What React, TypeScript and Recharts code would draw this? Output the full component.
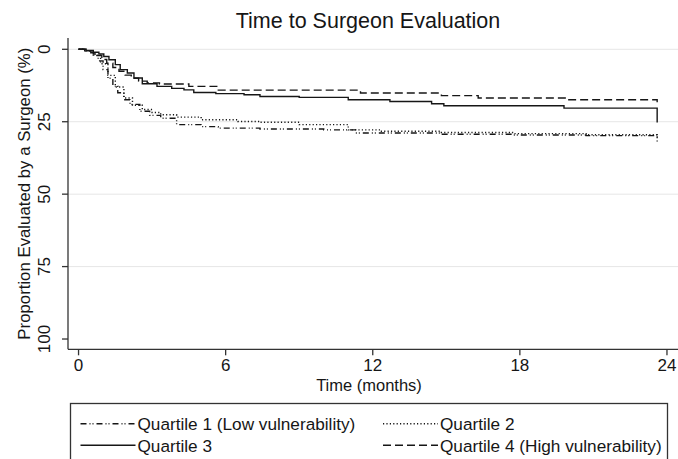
import React from "react";
import { LineChart, Line, XAxis, YAxis, CartesianGrid, Label } from "recharts";

// ---- data (Kaplan-Meier style cumulative proportion, %) ----
const xTicks = [0, 6, 12, 18, 24];
const yTicks = [0, 25, 50, 75, 100];
const gridValues = [0, 25, 50, 75];

const q1Time = [0, 0.3, 0.6, 0.8, 1.0, 1.2, 1.4, 1.6, 1.85, 2.1, 2.5, 2.9, 3.35, 4.0, 5.0, 5.7, 7.4, 10.0, 11.3, 14.8, 17.7, 20.7, 23.6];
const q1Value = [0, 0.6, 1.6, 4.0, 7.0, 10.0, 12.7, 15.0, 17.4, 19.0, 21.4, 22.8, 23.8, 26.0, 26.7, 27.2, 27.5, 27.8, 28.9, 29.3, 29.6, 29.8, 30.2];

const q2Time = [0, 0.3, 0.6, 0.9, 1.2, 1.5, 1.85, 2.2, 2.6, 3.0, 3.35, 4.0, 5.0, 6.5, 7.4, 9.0, 11.0, 12.3, 14.8, 17.7, 20.7, 23.6];
const q2Value = [0, 0.5, 2.0, 5.0, 9.0, 13.0, 16.8, 19.3, 20.8, 21.8, 22.6, 23.4, 24.3, 24.9, 25.2, 26.0, 27.8, 28.3, 28.7, 29.1, 29.5, 31.8];

const q3Time = [0, 0.3, 0.6, 0.83, 1.03, 1.24, 1.5, 1.7, 1.99, 2.26, 2.6, 3.2, 3.8, 4.3, 4.7, 5.6, 6.75, 7.4, 9.0, 11.0, 12.7, 14.4, 14.9, 19.8, 23.6];
const q3Value = [0, 0.4, 1.0, 1.6, 2.5, 3.6, 5.3, 7.0, 8.2, 9.9, 11.9, 12.8, 13.5, 14.0, 14.9, 15.3, 15.7, 16.3, 16.6, 17.4, 18.0, 18.8, 19.5, 20.3, 25.3];

const q4Time = [0, 0.25, 0.5, 0.75, 0.95, 1.15, 1.4, 1.65, 1.9, 2.15, 2.45, 2.8, 3.3, 4.5, 5.7, 11.5, 14.8, 16.3, 19.9, 23.6];
const q4Value = [0, 0.5, 1.2, 2.2, 3.5, 4.8, 6.3, 7.6, 8.9, 10.0, 11.0, 11.6, 12.0, 12.8, 14.1, 15.1, 16.0, 16.8, 17.4, 18.3];

const seriesNames = [
  "Quartile 1 (Low vulnerability)",
  "Quartile 2",
  "Quartile 3",
  "Quartile 4 (High vulnerability)",
];

const toRows = (t: number[], v: number[]) => t.map((x, i) => ({ t: x, v: v[i] }));

const series = [
  { name: seriesNames[0], data: toRows(q1Time, q1Value), dash: "6 3 1 2 1 3" },
  { name: seriesNames[1], data: toRows(q2Time, q2Value), dash: "1.2 2.2" },
  { name: seriesNames[2], data: toRows(q3Time, q3Value), dash: undefined as string | undefined },
  { name: seriesNames[3], data: toRows(q4Time, q4Value), dash: "8 4" },
];

const FONT = '"Liberation Sans", Arial, Helvetica, sans-serif';
const INK = "#161616";

const XTick = (p: any) => (
  <text x={p.x} y={p.y + 13.2} textAnchor="middle" fontFamily={FONT} fontSize={17} fill={INK}>
    {p.payload.value}
  </text>
);

const YTick = (p: any) => {
  const bx = p.x - 10;
  return (
    <text
      x={bx}
      y={p.y}
      transform={`rotate(-90 ${bx} ${p.y})`}
      textAnchor="middle"
      fontFamily={FONT}
      fontSize={17}
      fill={INK}
    >
      {p.payload.value}
    </text>
  );
};

const LegendItem = ({ x, y, name, dash }: { x: number; y: number; name: string; dash?: string }) => (
  <g>
    <line x1={x} y1={y - 6.2} x2={x + 55} y2={y - 6.2} stroke={INK} strokeWidth={1.4} strokeDasharray={dash} />
    <text x={x + 57} y={y} fontFamily={FONT} fontSize={17.2} fill={INK}>
      {name}
    </text>
  </g>
);

export default function App() {
  return (
    <div style={{ position: "absolute", left: 0, top: 0, width: 678, height: 459, overflow: "hidden", background: "#fff" }}>
      <LineChart width={678} height={459} margin={{ top: 38, right: 0, left: 0, bottom: 79.7 }}>
        <CartesianGrid vertical={false} horizontalValues={gridValues} stroke="#e6e6e6" strokeWidth={1} />
        <XAxis
          dataKey="t"
          type="number"
          domain={[-0.43, 24.45]}
          ticks={xTicks}
          allowDataOverflow
          height={30}
          tickSize={6}
          tickMargin={2}
          axisLine={{ stroke: "#333", strokeWidth: 1.3 }}
          tickLine={{ stroke: "#333", strokeWidth: 1.3 }}
          tick={XTick}
        >
          <Label
            content={(props: any) => {
              const vb = props.viewBox || { x: 68, y: 349.3, width: 610 };
              return (
                <text x={vb.x + vb.width / 2 - 4} y={vb.y + 42} textAnchor="middle" fontFamily={FONT} fontSize={16.5} fill={INK}>
                  Time (months)
                </text>
              );
            }}
          />
        </XAxis>
        <YAxis
          type="number"
          reversed
          domain={[-3.9, 103.55]}
          ticks={yTicks}
          allowDataOverflow
          width={68}
          tickSize={6}
          tickMargin={2}
          axisLine={{ stroke: "#333", strokeWidth: 1.3 }}
          tickLine={{ stroke: "#333", strokeWidth: 1.3 }}
          tick={YTick}
        >
          <Label
            content={(props: any) => {
              const vb = props.viewBox || { x: 0, y: 38, height: 311.3 };
              const cy = vb.y + vb.height / 2;
              const bx = 30;
              return (
                <text
                  x={bx}
                  y={cy}
                  transform={`rotate(-90 ${bx} ${cy})`}
                  textAnchor="middle"
                  fontFamily={FONT}
                  fontSize={16.8}
                  fill={INK}
                >
                  Proportion Evaluated by a Surgeon (%)
                </text>
              );
            }}
          />
        </YAxis>
        {series.map((s) => (
          <Line
            key={s.name}
            name={s.name}
            data={s.data}
            dataKey="v"
            type="stepAfter"
            stroke={INK}
            strokeWidth={1.4}
            strokeDasharray={s.dash}
            dot={false}
            activeDot={false}
            isAnimationActive={false}
          />
        ))}
      </LineChart>
      <svg width={678} height={459} style={{ position: "absolute", left: 0, top: 0, pointerEvents: "none" }}>
        <text x={368} y={28} textAnchor="middle" fontFamily={FONT} fontSize={21.5} fill={INK}>
          Time to Surgeon Evaluation
        </text>
        <rect x={70.5} y={403.5} width={597} height={70} fill="none" stroke="#333" strokeWidth={1.3} />
        <LegendItem x={80.5} y={430} name={series[0].name} dash={series[0].dash} />
        <LegendItem x={383} y={430} name={series[1].name} dash={series[1].dash} />
        <LegendItem x={80.5} y={451.5} name={series[2].name} dash={series[2].dash} />
        <LegendItem x={383} y={451.5} name={series[3].name} dash={series[3].dash} />
      </svg>
    </div>
  );
}
